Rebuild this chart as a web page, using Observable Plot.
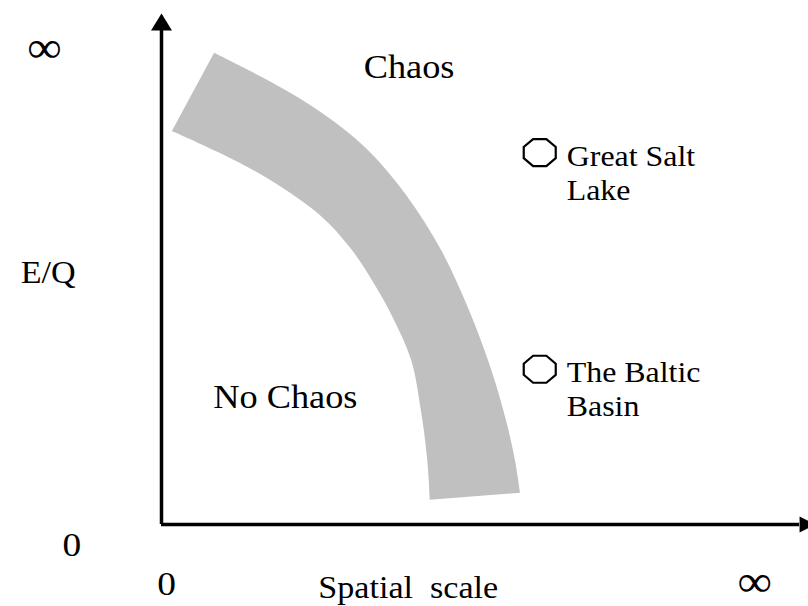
<!DOCTYPE html>
<html><head><meta charset="utf-8">
<script src="https://cdn.jsdelivr.net/npm/d3@7"></script>
<script src="https://cdn.jsdelivr.net/npm/@observablehq/plot@0.6"></script>
<style>body{margin:0;background:#fff}</style>
</head><body><div id="chart"></div>
<script>
// Transition band between "No Chaos" and "Chaos" (data units: 0..100 on both axes)
const bandInnerX = [1.7, 9.2, 17.0, 24.8, 29.8, 33.9, 36.4, 39.1, 40.6, 41.6, 42.0];
const bandInnerY = [78.0, 73.6, 68.3, 61.3, 54.4, 46.4, 40.5, 32.5, 22.6, 12.7, 4.8];
const bandOuterX = [8.3, 17.2, 25, 32.0, 38.3, 43.75, 48.1, 51.6, 53.9, 55.3, 56.1];
const bandOuterY = [93.5, 87.7, 81.7, 74.6, 65.3, 54.4, 42.5, 30.6, 20.6, 12.7, 6.2];

// Sites
const siteNames = ["Great Salt\nLake", "The Baltic\nBasin"];
const siteX = [59.1, 59.1];
const siteY = [73.8, 30.8];

// Region labels
const regionNames = ["Chaos", "No Chaos"];
const regionX = [31.6, 8.1];
const regionY = [88.5, 23.2];

// Axis titles
const axisTitles = ["E/Q", "Spatial\u00A0 scale"];
const axisTitleX = [-22.0, 24.5];
const axisTitleY = [48.0, -14.6];

// Tick labels
const zeroLabels = ["0", "0"];
const zeroX = [-14.0, 0.8];
const zeroY = [-6.3, -13.9];
const infLabels = ["\u221E", "\u221E"];
const infX = [-18.3, 92.7];
const infY = [94.6, -11.3];

// Axis extents and arrowheads
const axisEnd = {x: 99.7, y: 98.0};
const arrowHeads = [
  {id: "y", pts: [[0, 101.4], [-1.64, 98.0], [1.64, 98.0]]},
  {id: "x", pts: [[102.2, 0], [99.7, 1.6], [99.7, -1.6]]}
];

const band = bandInnerX.map((x, i) => ({
  xi: x, yi: bandInnerY[i], xo: bandOuterX[i], yo: bandOuterY[i]
}));
const sites = siteNames.map((name, i) => ({name, x: siteX[i], y: siteY[i]}));
const regions = regionNames.map((t, i) => ({t, x: regionX[i], y: regionY[i]}));
const titles = axisTitles.map((t, i) => ({t, x: axisTitleX[i], y: axisTitleY[i]}));
const zeros = zeroLabels.map((t, i) => ({t, x: zeroX[i], y: zeroY[i]}));
const infs = infLabels.map((t, i) => ({t, x: infX[i], y: infY[i]}));
const heads = arrowHeads.flatMap(h => h.pts.map(([x, y]) => ({id: h.id, x, y})));

const octagon = {
  draw(ctx, size) {
    const r = Math.sqrt(size / Math.PI);
    const c = Math.cos(Math.PI / 8);
    const ax = r * 1.185 / c, by = r / c;
    for (let k = 0; k < 8; k++) {
      const a = (22.5 + 45 * k) * Math.PI / 180;
      const px = ax * Math.cos(a), py = by * Math.sin(a);
      if (k === 0) ctx.moveTo(px, py); else ctx.lineTo(px, py);
    }
    ctx.closePath();
  }
};

const font = "Liberation Serif, Times New Roman, serif";

const chart = Plot.plot({
  width: 808,
  height: 606,
  marginLeft: 161,
  marginRight: 7,
  marginTop: 20,
  marginBottom: 82,
  x: {domain: [0, 100], axis: null},
  y: {domain: [0, 100], axis: null},
  style: {fontFamily: font, background: "white", color: "black", overflow: "visible"},
  marks: [
    Plot.area(band, {x1: "xi", y1: "yi", x2: "xo", y2: "yo", curve: "catmull-rom", fill: "#c0c0c0"}),
    Plot.ruleX([0], {y1: 0, y2: axisEnd.y, stroke: "black", strokeWidth: 3.5}),
    Plot.ruleY([0], {x1: 0, x2: axisEnd.x, stroke: "black", strokeWidth: 3.5}),
    Plot.line(heads, {x: "x", y: "y", z: "id", fill: "black", stroke: "none"}),
    Plot.dot(sites, {x: "x", y: "y", r: 13.5, symbol: octagon, fill: "white", stroke: "black", strokeWidth: 2.2}),
    Plot.text(sites, {x: "x", y: "y", text: "name", dx: 27, dy: -11, textAnchor: "start", lineAnchor: "top", lineHeight: 1.17, fontSize: 29, fill: "black"}),
    Plot.text(regions, {x: "x", y: "y", text: "t", textAnchor: "start", lineAnchor: "bottom", fontSize: 33, fill: "black"}),
    Plot.text(titles, {x: "x", y: "y", text: "t", textAnchor: "start", lineAnchor: "bottom", fontSize: 31, fill: "black"}),
    Plot.text(zeros, {x: "x", y: "y", text: "t", textAnchor: "middle", lineAnchor: "bottom", fontSize: 34, fill: "black"}),
    Plot.text(infs, {x: "x", y: "y", text: "t", textAnchor: "middle", lineAnchor: "middle", fontSize: 44, fill: "black"})
  ]
});

// slight horizontal stretch of the lettering, as in the reference
chart.querySelectorAll('g[aria-label="text"] text').forEach(t => {
  const tr = t.getAttribute("transform");
  if (tr) t.setAttribute("transform", tr + " scale(1.1,1)");
  else {
    const x = +t.getAttribute("x") || 0;
    t.setAttribute("transform", `translate(${x},0) scale(1.1,1) translate(${-x},0)`);
  }
});

document.getElementById("chart").append(chart);
</script></body></html>
